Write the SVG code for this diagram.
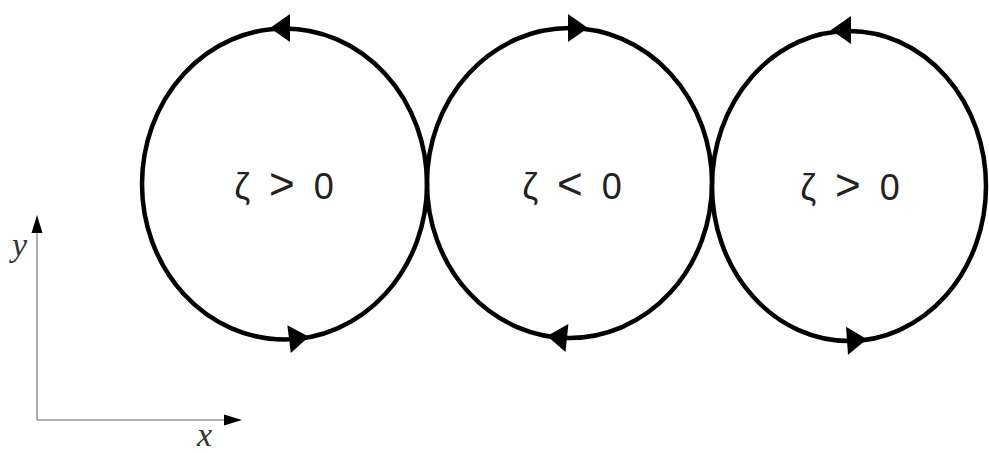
<svg xmlns="http://www.w3.org/2000/svg" width="989" height="453" viewBox="0 0 989 453">
<style>
.cell{fill:none;stroke:#000;stroke-width:4.5}
.axis{fill:none;stroke:#999;stroke-width:1.6}
.lab{font-family:"Liberation Sans","DejaVu Sans",sans-serif;font-size:36px;fill:#222;text-anchor:middle;word-spacing:9px}
.op{font-size:44px}
.ax{font-family:"Liberation Serif","DejaVu Serif",serif;font-style:italic;font-size:34px;fill:#333}
</style>
<defs>
<path id="ah" d="M10,0 L-10,-14 L-10,14 Z" fill="#000"/>
<path id="axh" d="M9,0 L-9,-5.5 L-9,5.5 Z" fill="#000"/>
</defs>
<rect width="989" height="453" fill="#fff"/>
<g id="cell1">
<ellipse class="cell" cx="284.5" cy="184" rx="142.5" ry="155.5"/>
<use href="#ah" transform="translate(280,28) rotate(180)"/>
<use href="#ah" transform="translate(299,338) rotate(-7)"/>
<text class="lab" x="284" y="199">ζ <tspan class="op">&gt;</tspan> 0</text>
</g>
<g id="cell2">
<ellipse class="cell" cx="569.5" cy="183" rx="142.5" ry="155"/>
<use href="#ah" transform="translate(578,28)"/>
<use href="#ah" transform="translate(557,337) rotate(186)"/>
<text class="lab" x="572" y="199">ζ <tspan class="op">&lt;</tspan> 0</text>
</g>
<g id="cell3">
<ellipse class="cell" cx="849" cy="186" rx="137" ry="155"/>
<use href="#ah" transform="translate(841,30) rotate(180)"/>
<use href="#ah" transform="translate(857,340) rotate(-4)"/>
<text class="lab" x="850" y="200">ζ <tspan class="op">&gt;</tspan> 0</text>
</g>
<g id="axes">
<path class="axis" d="M37,420 V226 M37,420 H232"/>
<use href="#axh" transform="translate(233,420)"/>
<use href="#axh" transform="translate(37,224) rotate(-90)"/>
<text class="ax" x="12" y="256">y</text>
<text class="ax" x="197" y="446">x</text>
</g>
</svg>
